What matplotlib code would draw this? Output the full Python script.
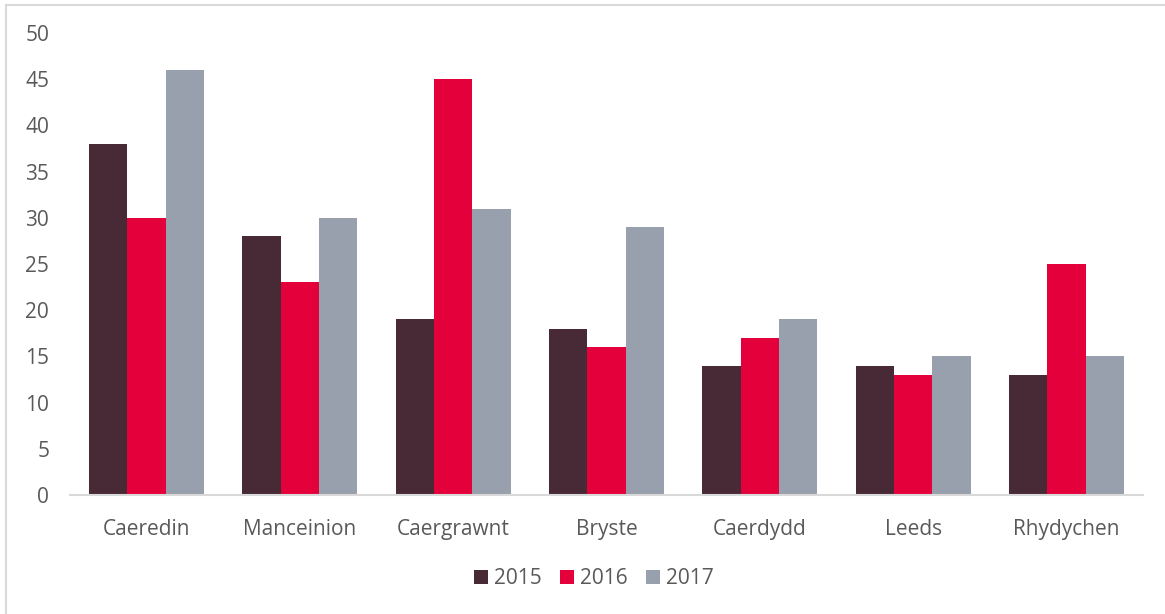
import matplotlib
matplotlib.use("Agg")
import matplotlib.pyplot as plt
import numpy as np
from matplotlib.lines import Line2D

categories = ["Caeredin", "Manceinion", "Caergrawnt", "Bryste", "Caerdydd", "Leeds", "Rhydychen"]
series_names = ["2015", "2016", "2017"]
values_2015 = [38, 28, 19, 18, 14, 14, 13]
values_2016 = [30, 23, 45, 16, 17, 13, 25]
values_2017 = [46, 30, 31, 29, 19, 15, 15]
colors = ["#472A35", "#E4003B", "#98A0AD"]

plt.rcParams['font.family'] = ['Open Sans', 'DejaVu Sans']
text_color = "#595959"

fig = plt.figure(figsize=(11.65, 6.14), dpi=100)
ax = fig.add_axes([70/1165, (614-495)/614, (1143-70)/1165, (495-33)/614])

x = np.arange(len(categories))
w = 0.25
for i, (vals, name, c) in enumerate(zip([values_2015, values_2016, values_2017], series_names, colors)):
    ax.bar(x + (i - 1) * w, vals, width=w, color=c, label=name, zorder=2)

ax.set_xlim(-0.5, len(categories) - 0.5)
ax.set_ylim(0, 50)
ax.set_yticks(range(0, 51, 5))
ax.set_xticks(x)
ax.set_xticklabels(categories)
for s in ["top", "right", "left"]:
    ax.spines[s].set_visible(False)
ax.spines["bottom"].set_color("#D9D9D9")
ax.spines["bottom"].set_linewidth(1.5)
ax.tick_params(axis="both", length=0, labelsize=15, labelcolor=text_color)
ax.tick_params(axis="y", pad=15)
ax.tick_params(axis="x", pad=17)

leg = fig.legend(loc="center", bbox_to_anchor=(594/1165, 1 - 579/614), ncol=3, frameon=False,
                 fontsize=15, handlelength=0.65, handleheight=0.65, handletextpad=0.3, columnspacing=0.9)
for t in leg.get_texts():
    t.set_color(text_color)

# outer border (top and left visible)
fig.add_artist(Line2D([6/1165, 6/1165], [0, 1 - 5/614], transform=fig.transFigure, color="#D9D9D9", lw=1.5))
fig.add_artist(Line2D([6/1165, 1], [1 - 5/614, 1 - 5/614], transform=fig.transFigure, color="#D9D9D9", lw=1.5))

fig.savefig("out.png", dpi=100)
